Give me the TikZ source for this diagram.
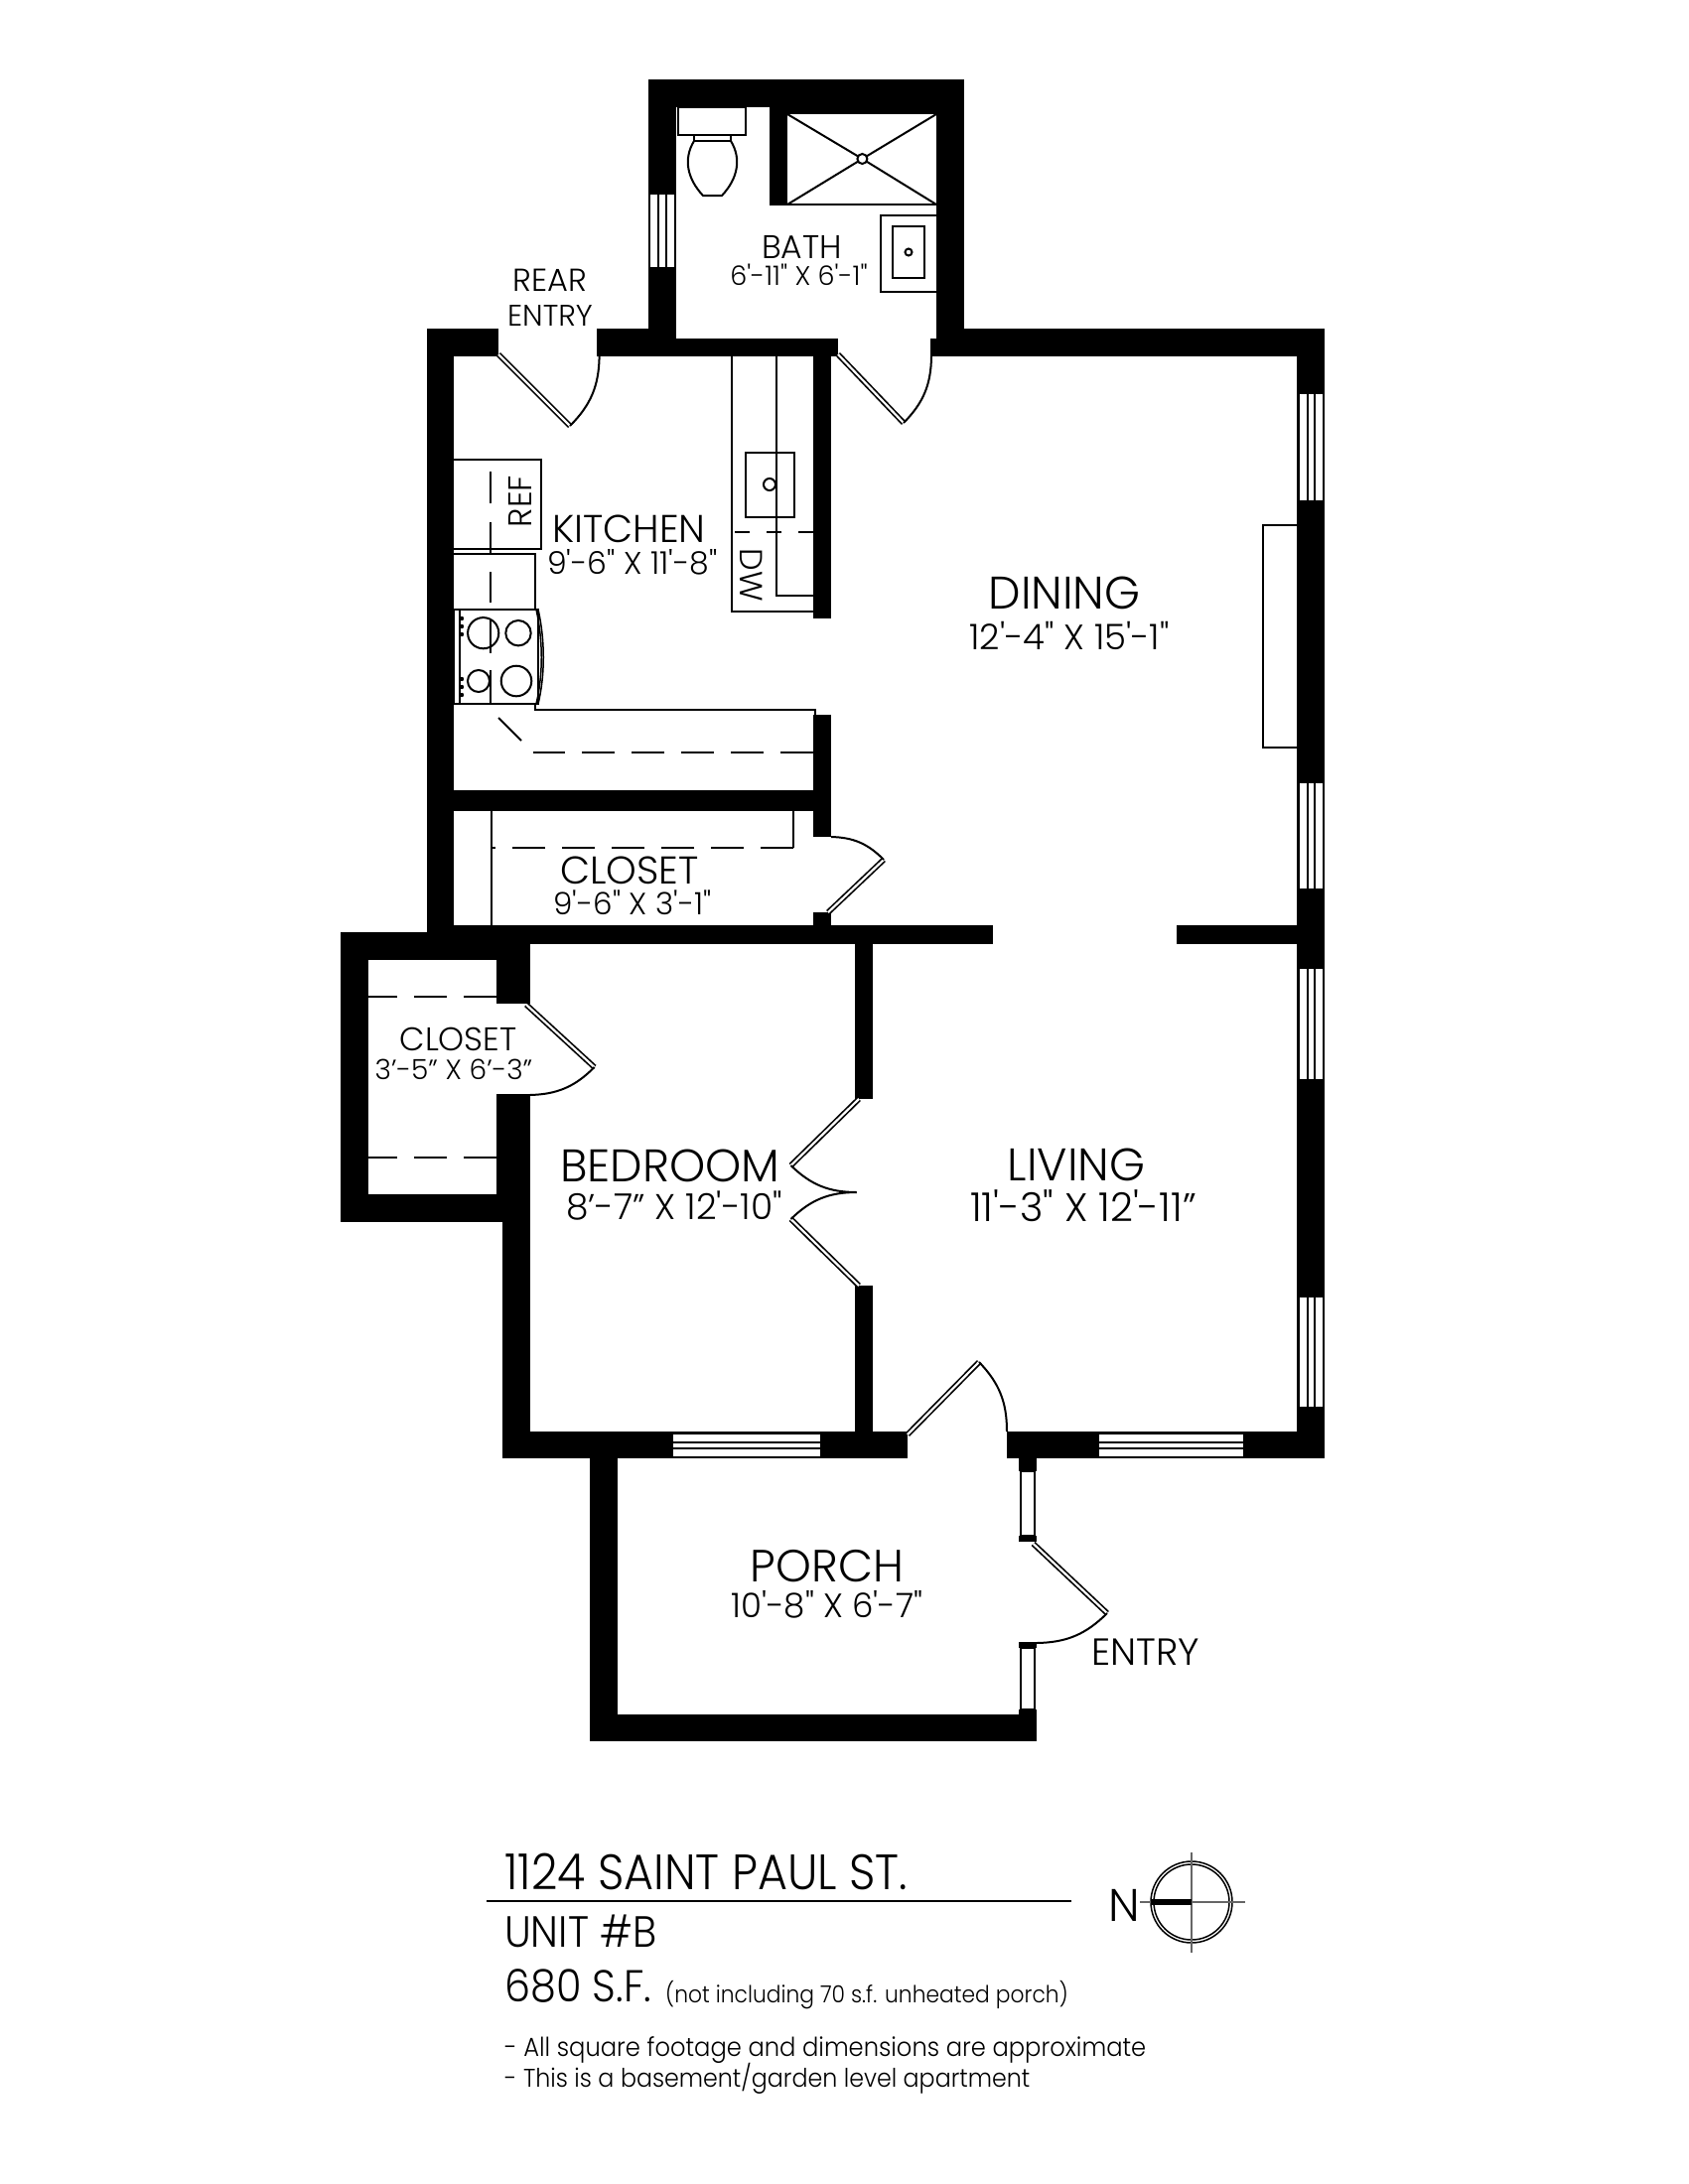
\documentclass[tikz,border=0pt]{standalone}
\usepackage{fontspec}
\newfontfamily\planfont{Poppins Light}
\newfontfamily\titlefont{Poppins Light}[FakeStretch=0.92]
\usepackage{tikz}
\usetikzlibrary{arrows.meta}
\usetikzlibrary{calc}
\tikzstyle{wall}=[fill=black]
\tikzstyle{fixture}=[line width=2pt]
\tikzstyle{thin fixture}=[line width=1.5pt]
\tikzstyle{hidden}=[line width=2pt,dash pattern=on 33pt off 17pt]
\tikzstyle{leaf}=[double,line width=1.7pt,double distance=2.2pt]
\tikzstyle{swing}=[line width=2pt]
\tikzstyle{pane}=[fill=white,draw=none]
\tikzstyle{label}=[inner sep=0pt,anchor=center]
\newcommand\fs[1]{\planfont\fontsize{#1}{#1}\selectfont}
\newcommand\ft[1]{\titlefont\fontsize{#1}{#1}\selectfont}
\tikzstyle{sz}=[label,font=\fs{27}]
\tikzstyle{lefttext}=[inner sep=0pt,anchor=west]
\newcommand\vwin[4]{\fill[pane] (#1,#3) rectangle (#2,#4);}
\begin{document}
\begin{tikzpicture}[x=1pt,y=-1pt]
	\useasboundingbox (0,0) rectangle (1700,2200);
	% bath
	\fill[wall] (652.6,80) rectangle (971,108);
	\fill[wall] (775,108) rectangle (971,115);
	\fill[wall] (775,108) rectangle (793,206);
	\fill[wall] (652.6,80) rectangle (680.5,359);
	\fill[wall] (943.4,80) rectangle (971,359);
	\fill[wall] (680.5,341) rectangle (844,359);
	\fill[wall] (936.5,341) rectangle (971,359);
	% outer shell
	\fill[wall] (430,331) rectangle (502,359);
	\fill[wall] (601,331) rectangle (652.6,359);
	\fill[wall] (971,331) rectangle (1334,359);
	\fill[wall] (1306,331) rectangle (1334,1469);
	\fill[wall] (430,331) rectangle (457,951);
	\fill[wall] (506,1442) rectangle (914,1469);
	\fill[wall] (1014,1442) rectangle (1334,1469);
	% bedroom closet
	\fill[wall] (343,939) rectangle (533.5,967);
	\fill[wall] (343,939) rectangle (370.5,1231);
	\fill[wall] (343,1203) rectangle (533.5,1231);
	\fill[wall] (500,951) rectangle (533.5,1011);
	\fill[wall] (500,1102) rectangle (533.5,1231);
	\fill[wall] (506,1203) rectangle (533.5,1469);
	% inner walls
	\fill[wall] (430,932) rectangle (1000,951);
	\fill[wall] (1185,932) rectangle (1306,951);
	\fill[wall] (861,951) rectangle (879,1107);
	\fill[wall] (861,1295) rectangle (879,1442);
	\fill[wall] (819,359) rectangle (837,623);
	\fill[wall] (819,720) rectangle (837,843);
	\fill[wall] (819,919) rectangle (837,932);
	\fill[wall] (457,796) rectangle (819,817);
	% porch
	\fill[wall] (594,1469) rectangle (622,1754);
	\fill[wall] (594,1727) rectangle (1044,1754);
	\fill[wall] (1026,1469) rectangle (1044,1482);
	\fill[wall] (1026,1547) rectangle (1044,1553);
	\fill[wall] (1026,1654) rectangle (1044,1660);
	\fill[wall] (1026,1722) rectangle (1044,1727);
	% windows
	\vwin{655}{662}{196}{269}
	\vwin{664}{670}{196}{269}
	\vwin{672}{678.5}{196}{269}
	\foreach \ya/\yb in {397/504,789/895,976/1087,1307/1417}{
		\vwin{1309}{1316}{\ya}{\yb}
		\vwin{1318}{1323}{\ya}{\yb}
		\vwin{1325}{1332}{\ya}{\yb}
	}
	\foreach \xa/\xb in {678/826,1107/1252}{
		\fill[pane] (\xa,1444.5) rectangle (\xb,1452);
		\fill[pane] (\xa,1454) rectangle (\xb,1458);
		\fill[pane] (\xa,1460) rectangle (\xb,1467);
	}
	\draw[fixture,fill=white] (1028,1482) rectangle (1042,1547);
	\draw[fixture,fill=white] (1028,1660) rectangle (1042,1722);
	% fireplace
	\draw[fixture] (1306,529) -- (1272,529) -- (1272,753) -- (1306,753);
	% toilet
	\draw[fixture] (683,108) -- (683,136) -- (751,136) -- (751,108) -- cycle;
	\draw[fixture] (699,136) -- (699,142) -- (736,142) -- (736,136);
	\draw[fixture] (699,142) .. controls (688,160) and (692,180) .. (708,197) -- (727,197) .. controls (743,180) and (747,160) .. (736,142);
	% shower
	\draw[fixture] (775,206) -- (943,206);
	\coordinate (drain) at (868.4,160);
	\draw[fixture] (793,115) -- (drain) -- (943,206);
	\draw[fixture] (943,115) -- (drain) -- (793,206);
	\draw[fixture,fill=white] (drain) circle (5);
	% bath sink
	\draw[fixture] (943,216.5) -- (887,216.5) -- (887,294) -- (943,294);
	\draw[fixture] (899,228) rectangle (931,279.6);
	\draw[fixture] (915,254) circle (3.5);
	% kitchen counter
	\draw[fixture] (737,359) -- (737,616) -- (819,616);
	\draw[fixture] (781.5,359) -- (781.5,600) -- (819,600);
	\draw[fixture] (751,456) rectangle (800,521);
	\draw[fixture] (775,488) circle (6);
	\draw[hidden,dash pattern=on 15pt off 17pt] (819,536) -- (737,536);
	\node[label,font=\fs{32},rotate=-90] (dw) at (757,579) {DW};
	% refrigerator and range
	\draw[fixture] (457,463) -- (545.4,463) -- (545.4,552.5) -- (457,552.5);
	\draw[fixture] (457,558) -- (538.5,558) -- (538.5,614);
	\node[label,font=\fs{33},rotate=90] (ref) at (524,505) {REF};
	\draw[fixture] (494,475) -- (494,507);
	\draw[fixture] (494,526) -- (494,558);
	\draw[fixture] (494,576) -- (494,607);
	\draw[fixture] (494,625) -- (494,658);
	\draw[fixture] (494,675) -- (494,709);
	\draw[fixture] (457,614) rectangle (542,709);
	\draw[fixture] (463,614) -- (463,709);
	\foreach \yb in {623,631,639,684,692,700}{
		\fill (465,\yb) circle (2.2);
	}
	\draw[fixture] (486.7,637.7) circle (15.6);
	\draw[fixture] (522,637.7) circle (12.7);
	\draw[fixture] (482,686) circle (11);
	\draw[fixture] (520,686) circle (15.3);
	\draw[thin fixture] (542,614) .. controls (549,645) and (549,680) .. (542,709);
	\draw[thin fixture] (540,614) .. controls (547,645) and (547,680) .. (540,709);
	% lower counter
	\draw[fixture] (538.7,709) -- (538.7,714.5) -- (821,714.5) -- (821,720);
	\draw[fixture] (502,723) -- (525,746);
	\draw[hidden] (819,758) -- (537,758);
	% closet shelf
	\draw[fixture] (495,817) -- (495,932);
	\draw[fixture] (799,817) -- (799,854);
	\draw[hidden] (799,854) -- (495,854);
	\draw[hidden] (500,1004) -- (370.5,1004);
	\draw[hidden] (500,1166) -- (370.5,1166);
	% doors
	\coordinate (rear hinge) at (502,357);
	\coordinate (rear tip) at (574,429);
	\coordinate (rear jamb) at (603.6,359);
	\draw[leaf] (rear hinge) -- (rear tip);
	\draw[swing] (rear tip) to[bend right=22] (rear jamb);
	\coordinate (bath hinge) at (844,357);
	\coordinate (bath tip) at (910,426);
	\coordinate (bath jamb) at (938,359);
	\draw[leaf] (bath hinge) -- (bath tip);
	\draw[swing] (bath tip) to[bend right=22] (bath jamb);
	\coordinate (closet hinge) at (834,919);
	\coordinate (closet tip) at (890,866);
	\coordinate (closet jamb) at (837,843);
	\draw[leaf] (closet hinge) -- (closet tip);
	\draw[swing] (closet tip) to[bend right=22] (closet jamb);
	\coordinate (robe hinge) at (530,1012);
	\coordinate (robe tip) at (598.6,1075);
	\coordinate (robe jamb) at (533.5,1103);
	\draw[leaf] (robe hinge) -- (robe tip);
	\draw[swing] (robe tip) to[bend left=22] (robe jamb);
	\coordinate (bed upper hinge) at (865,1107);
	\coordinate (bed upper tip) at (796.5,1174);
	\coordinate (bed lower hinge) at (865,1295);
	\coordinate (bed lower tip) at (796.5,1228);
	\coordinate (bed meet) at (862.7,1201);
	\draw[leaf] (bed upper hinge) -- (bed upper tip);
	\draw[leaf] (bed lower hinge) -- (bed lower tip);
	\draw[swing] (bed upper tip) to[bend right=22] (bed meet);
	\draw[swing] (bed lower tip) to[bend left=22] (bed meet);
	\coordinate (front hinge) at (914,1445);
	\coordinate (front tip) at (986,1372);
	\coordinate (front jamb) at (1014,1442);
	\draw[leaf] (front hinge) -- (front tip);
	\draw[swing] (front tip) to[bend left=22] (front jamb);
	\coordinate (entry hinge) at (1040.6,1555);
	\coordinate (entry tip) at (1115,1625);
	\coordinate (entry jamb) at (1044,1655);
	\draw[leaf] (entry hinge) -- (entry tip);
	\draw[swing] (entry tip) to[bend left=22] (entry jamb);
	% labels
	\node[label,font=\fs{32}] (rear) at (554,282) {REAR};
	\node[label,font=\fs{30}] (rear entry) at (554,318) {ENTRY};
	\node[label,font=\fs{33}] (bath) at (807.6,249) {BATH};
	\node[sz] (bath size) at (804.5,276.5) {6'-11" X 6'-1"};
	\node[label,font=\fs{39}] (kitchen) at (633.4,533) {KITCHEN};
	\node[sz,font=\fs{31.5}] (kitchen size) at (637,566) {9'-6" X 11'-8"};
	\node[label,font=\fs{39}] (closet a) at (634,877) {CLOSET};
	\node[sz,font=\fs{31}] (closet a size) at (637,909) {9'-6" X 3'-1"};
	\node[label,font=\fs{33}] (closet b) at (461.6,1047) {CLOSET};
	\node[sz,font=\fs{28}] (closet b size) at (457,1077) {3’-5” X 6’-3”};
	\node[label,font=\fs{46}] (bedroom) at (675,1174) {BEDROOM};
	\node[sz,font=\fs{36}] (bedroom size) at (679,1214.6) {8’-7” X 12'-10"};
	\node[label,font=\fs{46}] (dining) at (1072,597.5) {DINING};
	\node[sz,font=\fs{35.5}] (dining size) at (1077,640) {12'-4" X 15'-1"};
	\node[label,font=\fs{46}] (living) at (1084,1173) {LIVING};
	\node[sz,font=\fs{40}] (living size) at (1091,1215) {11'-3" X 12'-11”};
	\node[label,font=\fs{45.5}] (porch) at (833,1578) {PORCH};
	\node[sz,font=\fs{34}] (porch size) at (833,1616) {10'-8" X 6'-7"};
	\node[label,font=\fs{38}] (entry) at (1154,1664) {ENTRY};
	% title block
	\node[lefttext,font=\ft{50}] (address) at (508,1885) {1124 SAINT PAUL ST.};
	\coordinate (rule a) at (490,1915);
	\coordinate (rule b) at (1079,1915);
	\draw[fixture] (rule a) -- (rule b);
	\node[lefttext,font=\ft{44}] (unit) at (508,1945) {UNIT \#B};
	\node[lefttext,font=\ft{45}] (area) at (508,2000) {680 S.F.};
	\node[lefttext,font=\ft{23.7}] (area note) at (670,2010) {(not including 70 s.f. unheated porch)};
	\node[lefttext,font=\ft{26.3}] (note a) at (508,2065) {- All square footage and dimensions are approximate};
	\node[lefttext,font=\ft{25.8}] (note b) at (508,2094) {- This is a basement/garden level apartment};
	% north mark
	\coordinate (north) at (1200,1916);
	\node[label,font=\fs{46}] (n) at (1132,1919) {N};
	\draw[thin fixture] (north) circle (41);
	\draw[thin fixture] (north) circle (38);
	\draw[thin fixture,gray!80!black] (1148,1916) -- (1254,1916);
	\draw[thin fixture,gray!80!black] (1200,1866) -- (1200,1967);
	\fill[wall] (1159,1913) rectangle (1200,1919);
\end{tikzpicture}
\end{document}
